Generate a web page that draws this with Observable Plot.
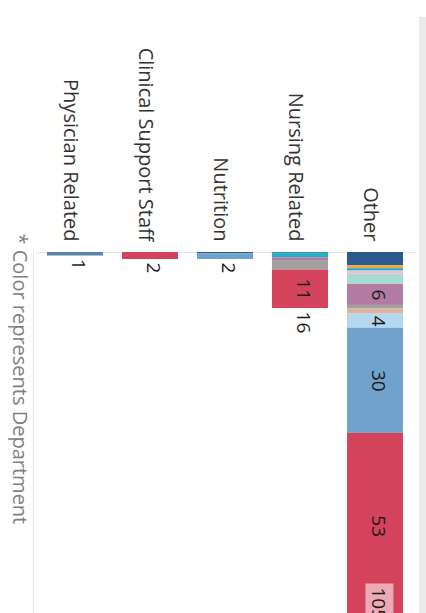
<!DOCTYPE html>
<html>
<head>
<meta charset="utf-8">
<script src="https://cdn.jsdelivr.net/npm/d3@7"></script>
<script src="https://cdn.jsdelivr.net/npm/@observablehq/plot@0.6"></script>
<style>
  html, body { margin: 0; padding: 0; background: #fff; overflow: hidden; }
  #wrap { position: relative; width: 426px; height: 613px; overflow: hidden; }
  #scrollbar { position: absolute; right: 0; top: 17px; bottom: 0; width: 7px; background: #ebebeb; }
</style>
</head>
<body>
<div id="wrap"><div id="scrollbar"></div></div>
<script>
// ---- data ----
const categories = ["Physician Related", "Clinical Support Staff", "Nutrition", "Nursing Related", "Other"];

const departments = ["Department A", "Department B", "Department C", "Department D", "Department E", "Department F",
                     "Department G", "Department H", "Department I", "Department J", "Department K", "Department L"];
const departmentColors = ["#2c5a8a", "#f5a53a", "#1db2c9", "#f6bdd2", "#a8dbd3", "#b17ba4",
                          "#a1a2a0", "#dbb5a3", "#b4d8ee", "#70a2cb", "#d3445c", "#5a83ae"];

const physicianDepts = ["Department L"];
const physicianValues = [1];
const clinicalDepts = ["Department K"];
const clinicalValues = [2];
const nutritionDepts = ["Department A", "Department J"];
const nutritionValues = [0.4, 1.6];
const nursingDepts = ["Department A", "Department C", "Department F", "Department G", "Department K"];
const nursingValues = [0.2, 1.3, 0.8, 2.7, 11];
const otherDepts = ["Department A", "Department B", "Department C", "Department D", "Department E", "Department F",
                    "Department G", "Department H", "Department I", "Department J", "Department K"];
const otherValues = [3.8, 0.8, 0.7, 0.9, 2.9, 6, 0.9, 1.6, 4, 30, 53];

const footnote = "* Color represents Department";
const valueAxisMax = 103;   // visible extent of the value axis
const minLabelValue = 4;    // segments smaller than this carry no label

// ---- table built from the arrays ----
const groups = [
  [categories[0], physicianDepts, physicianValues],
  [categories[1], clinicalDepts, clinicalValues],
  [categories[2], nutritionDepts, nutritionValues],
  [categories[3], nursingDepts, nursingValues],
  [categories[4], otherDepts, otherValues]
];
const table = groups.flatMap(([category, depts, vals]) =>
  depts.map((dept, i) => ({category, dept, value: vals[i]})));
const totals = categories.map(category => ({
  category,
  total: d3.sum(table.filter(d => d.category === category), d => d.value)
}));
const fmt = d3.format(".0f");

const M = {top: 252, right: 11, bottom: 0, left: 35};
const numStyle = {rotate: 90, fontSize: 19, fill: "#1a1a1a", dx: 3};

const chart = Plot.plot({
  width: 426,
  height: 613,
  marginTop: M.top,
  marginRight: M.right,
  marginBottom: M.bottom,
  marginLeft: M.left,
  style: {fontFamily: "'Open Sans', sans-serif", background: "white", overflow: "hidden"},
  x: {domain: categories, paddingInner: 0.25, paddingOuter: 0.13, axis: null},
  y: {domain: [0, valueAxisMax], reverse: true, axis: null},
  color: {domain: departments, range: departmentColors},
  marks: [
    Plot.ruleY([0], {stroke: "#e6e6e6"}),
    Plot.barY(table, Plot.stackY({x: "category", y: "value", fill: "dept", clip: true})),
    Plot.text(table, Plot.stackY({
      x: "category", y: "value",
      text: d => d.value >= minLabelValue ? fmt(d.value) : "",
      ...numStyle
    })),
    Plot.text(categories, {
      x: d => d, frameAnchor: "top", text: d => d,
      rotate: 90, textAnchor: "end", dx: 3, dy: -11, fontSize: 20, fill: "#333"
    }),
    Plot.text(totals.filter(d => d.total <= valueAxisMax), {
      x: "category", y: "total", text: d => fmt(d.total),
      textAnchor: "start", dy: 3, ...numStyle
    }),
    Plot.text(totals.filter(d => d.total > valueAxisMax), {
      x: "category", y: () => valueAxisMax, text: d => fmt(d.total),
      textAnchor: "start", dy: -26, ariaDescription: "overflow-total", ...numStyle
    }),
    Plot.text([footnote], {
      frameAnchor: "top-left", text: d => d,
      rotate: 90, textAnchor: "start", dx: -8, dy: -19, fontSize: 20, fill: "#808080"
    })
  ]
});

const wrap = document.getElementById("wrap");
wrap.insertBefore(chart, wrap.firstChild);

// left border of the pane
d3.select(chart).insert("line", ":first-child")
  .attr("x1", M.left - 1.5).attr("x2", M.left - 1.5)
  .attr("y1", M.top - 2).attr("y2", 613)
  .attr("stroke", "#e6e6e6");

// translucent box behind labels of bars that run past the view
chart.querySelectorAll('g[aria-description="overflow-total"] text').forEach(t => {
  const b = t.getBBox();
  const r = document.createElementNS("http://www.w3.org/2000/svg", "rect");
  r.setAttribute("transform", t.getAttribute("transform") || "");
  r.setAttribute("x", b.x - 4);
  r.setAttribute("y", b.y - 1);
  r.setAttribute("width", b.width + 8);
  r.setAttribute("height", b.height + 2);
  r.setAttribute("fill", "white");
  r.setAttribute("fill-opacity", 0.55);
  t.parentNode.insertBefore(r, t);
});
</script>
</body>
</html>
